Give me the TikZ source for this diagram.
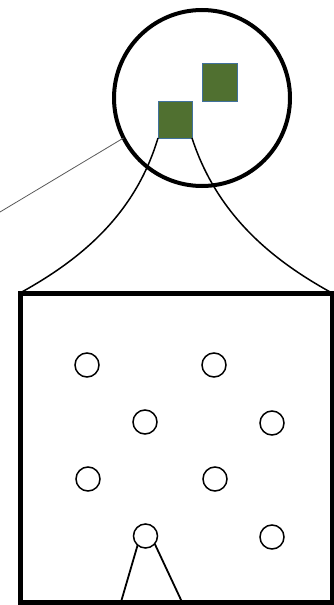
\documentclass[tikz,border=0pt]{standalone}
\usetikzlibrary{calc}
\definecolor{leafgreen}{RGB}{80,112,48}
\definecolor{edgeblue}{RGB}{65,113,156}
\begin{document}
\begin{tikzpicture}[x=1pt,y=-1pt,
  bigring/.style={circle,draw,line width=4pt,minimum size=176pt,inner sep=0pt,outer sep=0pt},
  cell/.style={rectangle,draw=edgeblue,fill=leafgreen,line width=1pt,inner sep=0pt,outer sep=0pt},
  zoombox/.style={rectangle,draw,line width=5pt,inner sep=0pt,outer sep=0pt},
  dot/.style={circle,draw,line width=1.5pt,minimum size=24pt,inner sep=0pt,outer sep=0pt},
  flare/.style={line width=1.5pt},
  leg/.style={line width=1.8pt}]
\useasboundingbox (0,0) rectangle (333,605);
% magnifier circle
\node[bigring] (ring) at (202,98) {};
\node[cell,minimum width=35pt,minimum height=38pt] (sqa) at (219.5,82) {};
\node[cell,minimum width=34pt,minimum height=37pt] (sqb) at (175,119.5) {};
% pointer line
\coordinate (lf) at (0,212);
\draw[gray!70!black,line width=0.8pt] (lf) -- (ring.207);
% zoom box
\node[zoombox,minimum width=312pt,minimum height=309pt] (box) at (176,447.5) {};
% flaring curves
\draw[flare] (sqb.south west) .. controls (135,215) and (80,260) .. (box.north west);
\draw[flare] (sqb.south east) .. controls (217,215) and (272,260) .. (box.north east);
% small circles
\node[dot] (c1) at (87,365) {};
\node[dot] (c2) at (214,365) {};
\node[dot] (c3) at (145,422) {};
\node[dot] (c4) at (272,423) {};
\node[dot] (c5) at (88,479) {};
\node[dot] (c6) at (215,479) {};
\node[dot] (c7) at (145.5,536) {};
\node[dot] (c8) at (272,537) {};
% legs
\coordinate (la) at (121,602);
\coordinate (lb) at (182,602);
\draw[leg] (c7.229) -- (la);
\draw[leg] (c7.320) -- (lb);
\end{tikzpicture}
\end{document}
